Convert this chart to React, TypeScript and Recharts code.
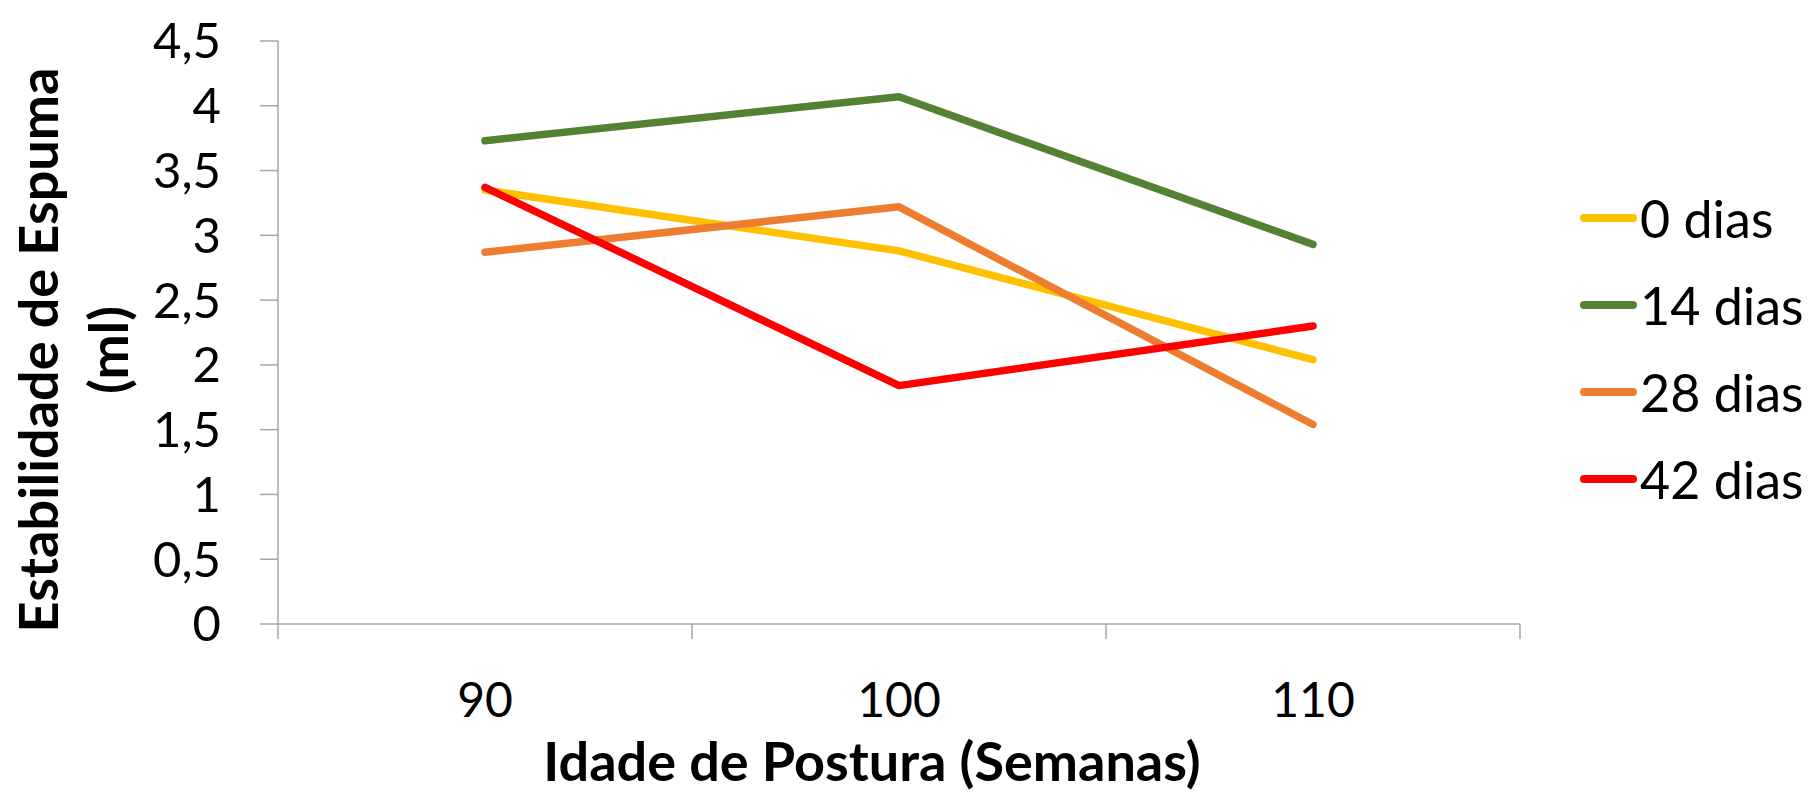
import React from 'react';
import { LineChart, Line, XAxis, YAxis, Legend } from 'recharts';

const categories = ['90', '100', '110'];
const seriesNames = ['0 dias', '14 dias', '28 dias', '42 dias'];
const seriesColors = ['#FFC000', '#548235', '#ED7D31', '#FF0000'];
const dias0 = [3.35, 2.88, 2.04];
const dias14 = [3.73, 4.07, 2.93];
const dias28 = [2.87, 3.22, 1.54];
const dias42 = [3.37, 1.84, 2.30];
const yTicks = [0, 0.5, 1, 1.5, 2, 2.5, 3, 3.5, 4, 4.5];
const boundaryTicks = [0, 1, 2, 3];
const yTitleLines = ['Estabilidade de Espuma', '(ml)'];
const xTitle = 'Idade de Postura (Semanas)';

const seriesValues = [dias0, dias14, dias28, dias42];
const keys = ['s0', 's14', 's28', 's42'];

const data = categories.map((c, i) => {
  const row: any = { cat: c, pos: i + 0.5 };
  keys.forEach((k, j) => (row[k] = seriesValues[j][i]));
  return row;
});

const FONT = 'Lato, "Open Sans", sans-serif';
const AXIS = '#A6A6A6';

const YTitle = () => (
  <g>
    {yTitleLines.map((t, i) => (
      <text
        key={t}
        transform="rotate(-90)"
        x={-350}
        y={58 + i * 70}
        textAnchor="middle"
        fontFamily={FONT}
        fontWeight={700}
        fontSize={54}
        fill="#000"
      >
        {t}
      </text>
    ))}
  </g>
);

const XTitle = () => (
  <text
    x={872}
    y={781}
    textAnchor="middle"
    fontFamily={FONT}
    fontWeight={700}
    fontSize={54}
    fill="#000"
  >
    {xTitle}
  </text>
);

const EmptyTick = () => <g />;

const LegendContent = (props: any) => {
  const payload = props.payload || [];
  return (
    <div style={{ fontFamily: FONT, fontSize: 52, color: '#000' }}>
      {payload.map((p: any) => (
        <div key={p.value} style={{ display: 'flex', alignItems: 'center', height: 87.2 }}>
          <div
            style={{
              width: 57,
              height: 8,
              borderRadius: 4,
              background: p.color,
              marginRight: 3,
            }}
          />
          <span style={{ lineHeight: '52px' }}>{p.value}</span>
        </div>
      ))}
    </div>
  );
};

export default function App() {
  return (
    <div style={{ position: 'absolute', left: 0, top: 0, width: 1815, height: 800, background: '#fff' }}>
      <LineChart
        width={1815}
        height={800}
        data={data}
        margin={{ top: 41, right: 295, bottom: 0, left: 0 }}
      >
        <XAxis
          xAxisId="bounds"
          type="number"
          dataKey="pos"
          domain={[0, 3]}
          ticks={boundaryTicks}
          interval={0}
          tick={<EmptyTick />}
          tickLine={{ stroke: AXIS, strokeWidth: 1.5 }}
          tickSize={15}
          height={16}
          stroke={AXIS}
          strokeWidth={1.5}
          allowDataOverflow
        />
        <XAxis
          xAxisId="cats"
          dataKey="cat"
          type="category"
          height={160}
          axisLine={false}
          tickLine={false}
          tickSize={0}
          tickMargin={43}
          padding={{ left: 207, right: 207 }}
          tick={{ fontFamily: FONT, fontSize: 48, fill: '#000' }}
          label={<XTitle />}
        />
        <YAxis
          width={278}
          domain={[0, 4.5]}
          ticks={yTicks}
          interval={0}
          stroke={AXIS}
          strokeWidth={1.5}
          tickSize={18}
          tickMargin={39}
          tickFormatter={(v: number) => String(v).replace('.', ',')}
          tick={{ fontFamily: FONT, fontSize: 49, fill: '#000' }}
          label={<YTitle />}
        />
        {keys.map((k, j) => (
          <Line
            key={k}
            xAxisId="cats"
            dataKey={k}
            name={seriesNames[j]}
            stroke={seriesColors[j]}
            strokeWidth={7.5}
            strokeLinecap="round"
            strokeLinejoin="round"
            dot={false}
            activeDot={false}
            isAnimationActive={false}
          />
        ))}
        <Legend
          layout="vertical"
          align="center"
          verticalAlign="middle"
          content={<LegendContent />}
          wrapperStyle={{ left: 1580, top: 174, width: 235 }}
        />
      </LineChart>
    </div>
  );
}
